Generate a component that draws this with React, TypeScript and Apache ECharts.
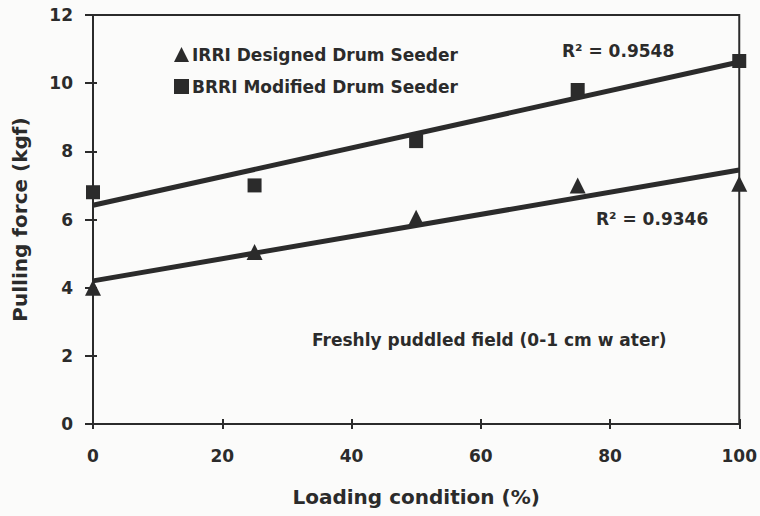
import React, { useEffect, useRef } from "react";
import * as echarts from "echarts";

const loading = [0, 25, 50, 75, 100];
const irriForce = [4.0, 5.05, 6.05, 7.0, 7.05];
const brriForce = [6.8, 7.0, 8.3, 9.8, 10.65];
const trendX = [0, 100];
const irriTrend = [4.2, 7.45];
const brriTrend = [6.42, 10.62];
const irriR2 = "R² = 0.9346";
const brriR2 = "R² = 0.9548";
const seriesNames = ["IRRI Designed Drum Seeder", "BRRI Modified Drum Seeder"];
const xTicks = [0, 20, 40, 60, 80, 100];
const yTicks = [0, 2, 4, 6, 8, 10, 12];

const INK = "#2b2b2b";
const FONT = "'DejaVu Sans', 'Liberation Sans', Arial, sans-serif";

export default function App() {
  const ref = useRef<HTMLDivElement>(null);
  useEffect(() => {
    if (!ref.current) return;
    const chart = echarts.init(ref.current, null, { renderer: "svg" });
    const pair = (xs: number[], ys: number[]) => xs.map((x, i) => [x, ys[i]]);
    const axisLabelStyle = { color: INK, fontSize: 16, fontWeight: "bold" as const, fontFamily: FONT };
    chart.setOption({
      animation: false,
      backgroundColor: "#fbfbfa",
      grid: {
        left: 93,
        right: 18,
        top: 15,
        bottom: 92,
        show: true,
        borderColor: INK,
        borderWidth: 2,
        backgroundColor: "transparent",
      },
      legend: {
        orient: "vertical",
        left: 169,
        top: 41,
        itemWidth: 15,
        itemHeight: 15,
        itemGap: 15,
        data: [
          { name: seriesNames[0], icon: "triangle" },
          { name: seriesNames[1], icon: "rect" },
        ],
        textStyle: { color: INK, fontSize: 17, fontWeight: "bold", fontFamily: FONT, padding: [0, 0, 0, -2] },
      },
      xAxis: [
        {
          type: "value",
          min: 0,
          max: 100,
          interval: 20,
          name: "Loading condition (%)",
          nameLocation: "middle",
          nameGap: 63,
          nameTextStyle: { ...axisLabelStyle, fontSize: 20 },
          axisLine: { show: true, lineStyle: { color: INK, width: 2 } },
          axisTick: { show: true, length: 5, lineStyle: { color: INK, width: 2 } },
          axisLabel: { ...axisLabelStyle, fontSize: 17, margin: 23, formatter: (v: number) => (xTicks.includes(v) ? String(v) : "") },
          splitLine: { show: false },
        },
        {
          type: "value",
          min: 0,
          max: 100,
          interval: 20,
          position: "bottom",
          axisLine: { show: false },
          axisTick: { show: true, inside: true, length: 5, lineStyle: { color: INK, width: 2 } },
          axisLabel: { show: false },
          splitLine: { show: false },
        },
      ],
      yAxis: [
        {
          type: "value",
          min: 0,
          max: 12,
          interval: 2,
          name: "Pulling force (kgf)",
          nameLocation: "middle",
          nameGap: 63,
          nameTextStyle: { ...axisLabelStyle, fontSize: 20 },
          axisLine: { show: true, lineStyle: { color: INK, width: 2 } },
          axisTick: { show: true, length: 8, lineStyle: { color: INK, width: 2 } },
          axisLabel: { ...axisLabelStyle, fontSize: 17, margin: 20, formatter: (v: number) => (yTicks.includes(v) ? String(v) : "") },
          splitLine: { show: false },
        },
        {
          type: "value",
          min: 0,
          max: 12,
          interval: 2,
          position: "left",
          axisLine: { show: false },
          axisTick: { show: true, inside: true, length: 4, lineStyle: { color: INK, width: 2 } },
          axisLabel: { show: false },
          splitLine: { show: false },
        },
      ],
      series: [
        {
          name: seriesNames[0] + " trend",
          type: "line",
          data: pair(trendX, irriTrend),
          showSymbol: false,
          lineStyle: { color: INK, width: 5 },
          z: 2,
          silent: true,
        },
        {
          name: seriesNames[1] + " trend",
          type: "line",
          data: pair(trendX, brriTrend),
          showSymbol: false,
          lineStyle: { color: INK, width: 5 },
          z: 2,
          silent: true,
        },
        {
          name: seriesNames[0],
          type: "scatter",
          data: pair(loading, irriForce),
          symbol: "triangle",
          symbolSize: 16,
          itemStyle: { color: INK, opacity: 1 },
          z: 3,
        },
        {
          name: seriesNames[1],
          type: "scatter",
          data: pair(loading, brriForce),
          symbol: "rect",
          symbolSize: 14,
          itemStyle: { color: INK, opacity: 1 },
          z: 3,
        },
      ],
      graphic: [
        {
          type: "text",
          left: 562,
          top: 42,
          style: { text: brriR2, fill: INK, font: `bold 17px ${FONT}` },
        },
        {
          type: "text",
          left: 596,
          top: 210,
          style: { text: irriR2, fill: INK, font: `bold 17px ${FONT}` },
        },
        {
          type: "text",
          left: 312,
          top: 331,
          style: { text: "Freshly puddled field (0-1 cm w ater)", fill: INK, font: `bold 17px ${FONT}` },
        },
      ],
    });
    return () => chart.dispose();
  }, []);
  return (
    <div
      ref={ref}
      style={{ position: "fixed", left: 0, top: 0, width: 760, height: 516 }}
    />
  );
}
